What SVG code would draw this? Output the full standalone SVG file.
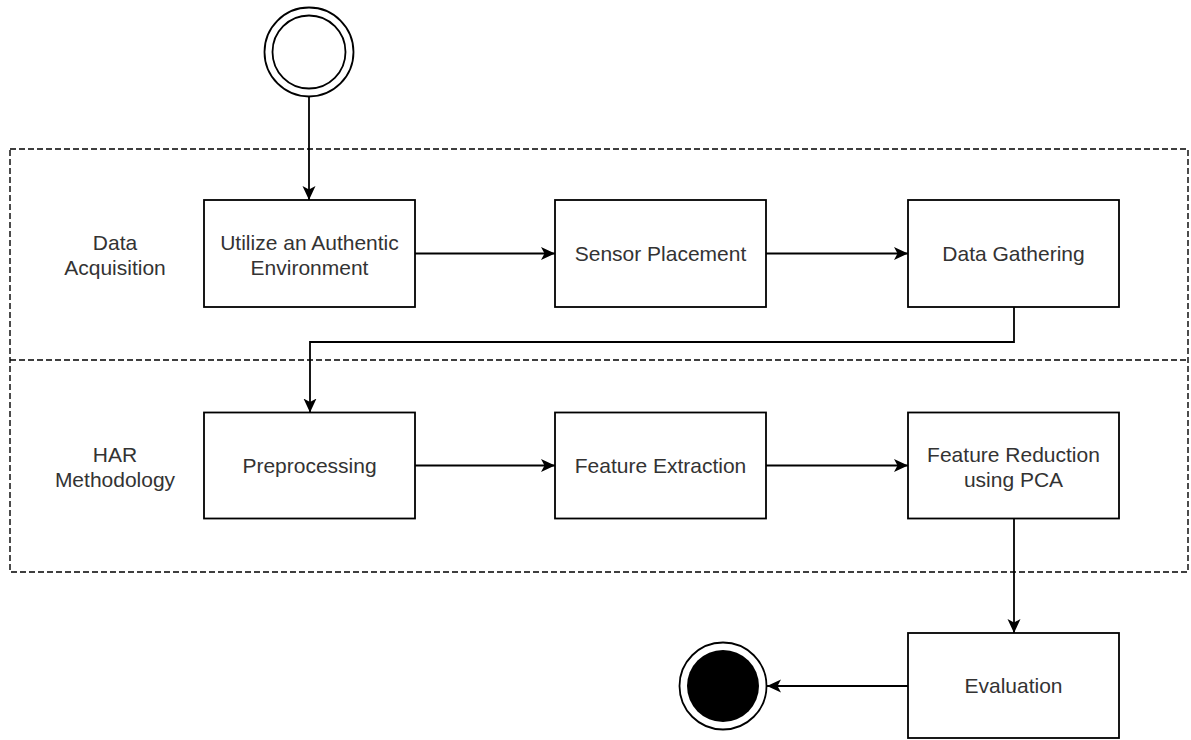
<svg xmlns="http://www.w3.org/2000/svg" width="1191" height="740" viewBox="0 0 1191 740">
  <style>
    .lane { fill: none; stroke: #000; stroke-width: 1.4; stroke-dasharray: 6 3; }
    .box { fill: #fff; stroke: #000; stroke-width: 1.8; }
    .edge { fill: none; stroke: #000; stroke-width: 1.8; marker-end: url(#arrow); }
    .label { font-family: "Liberation Sans", Arial, sans-serif; font-size: 21px; fill: #333; text-anchor: middle; }
    .ring { fill: #fff; stroke: #000; stroke-width: 1.8; }
  </style>
  <defs>
    <marker id="arrow" markerUnits="userSpaceOnUse" markerWidth="18" markerHeight="16" refX="14" refY="8" orient="auto">
      <path d="M0,1.5 L14,8 L0,14.5 L3.5,8 Z" fill="#000"/>
    </marker>
  </defs>
  <rect width="1191" height="740" fill="#fff"/>

  <!-- swimlanes: outer frame plus one shared divider -->
  <g id="lanes">
    <rect class="lane" x="10" y="149" width="1178" height="423"/>
    <line class="lane" x1="10" y1="360" x2="1188" y2="360"/>
    <text class="label" x="115" y="250">Data</text>
    <text class="label" x="115" y="275">Acquisition</text>
    <text class="label" x="115" y="462">HAR</text>
    <text class="label" x="115" y="487">Methodology</text>
  </g>

  <g id="connectors">
    <path class="edge" d="M309,97 L309,200"/>
    <path class="edge" d="M415,253.5 L555,253.5"/>
    <path class="edge" d="M766,253.5 L908,253.5"/>
    <path class="edge" d="M1014,307 L1014,342 L310,342 L310,412.5"/>
    <path class="edge" d="M415,465.5 L555,465.5"/>
    <path class="edge" d="M766,465.5 L908,465.5"/>
    <path class="edge" d="M1014,518 L1014,633"/>
    <path class="edge" d="M908,686 L767,686"/>
  </g>

  <g id="start">
    <circle class="ring" cx="309" cy="52" r="44.5"/>
    <circle class="ring" cx="309" cy="52" r="36.5"/>
  </g>

  <g id="utilize">
    <rect class="box" x="204" y="200" width="211" height="107"/>
    <text class="label" x="309.5" y="250">Utilize an Authentic</text>
    <text class="label" x="309.5" y="275">Environment</text>
  </g>
  <g id="sensor">
    <rect class="box" x="555" y="200" width="211" height="107"/>
    <text class="label" x="660.5" y="261">Sensor Placement</text>
  </g>
  <g id="gathering">
    <rect class="box" x="908" y="200" width="211" height="107"/>
    <text class="label" x="1013.5" y="261">Data Gathering</text>
  </g>

  <g id="preprocessing">
    <rect class="box" x="204" y="412.5" width="211" height="106"/>
    <text class="label" x="309.5" y="473">Preprocessing</text>
  </g>
  <g id="extraction">
    <rect class="box" x="555" y="412.5" width="211" height="106"/>
    <text class="label" x="660.5" y="473">Feature Extraction</text>
  </g>
  <g id="reduction">
    <rect class="box" x="908" y="412.5" width="211" height="106"/>
    <text class="label" x="1013.5" y="462">Feature Reduction</text>
    <text class="label" x="1013.5" y="487">using PCA</text>
  </g>

  <g id="evaluation">
    <rect class="box" x="908" y="633" width="211" height="105"/>
    <text class="label" x="1013.5" y="693">Evaluation</text>
  </g>

  <g id="end">
    <circle class="ring" cx="723" cy="686" r="43.5"/>
    <circle cx="723" cy="686" r="36" fill="#000"/>
  </g>
</svg>
